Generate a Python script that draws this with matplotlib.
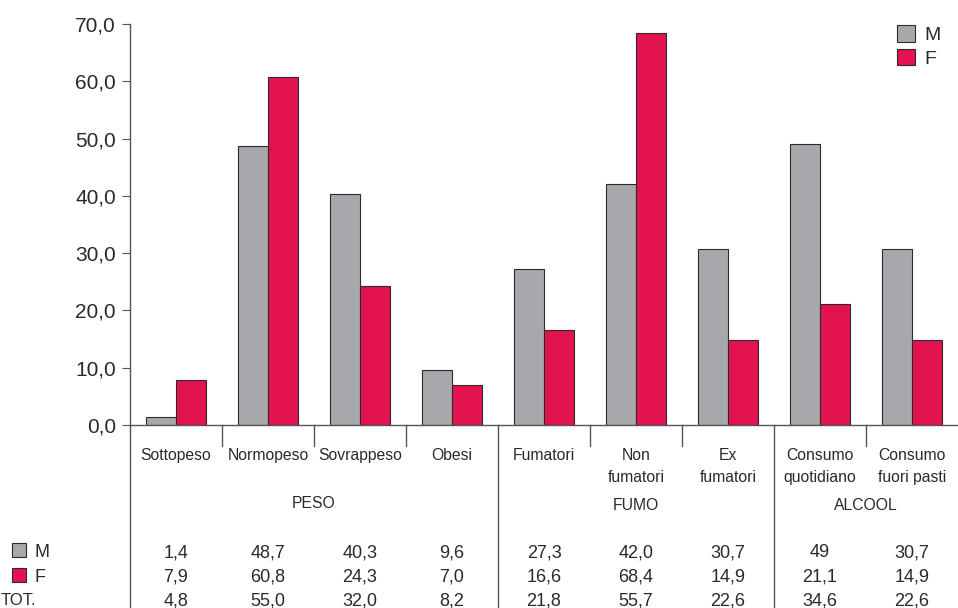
import matplotlib.pyplot as plt
import matplotlib.transforms as mtransforms
from matplotlib.ticker import FuncFormatter
from matplotlib.patches import Rectangle

categories = ["Sottopeso", "Normopeso", "Sovrappeso", "Obesi",
              "Fumatori", "Non\nfumatori", "Ex\nfumatori",
              "Consumo\nquotidiano", "Consumo\nfuori pasti"]
male = [1.4, 48.7, 40.3, 9.6, 27.3, 42.0, 30.7, 49.0, 30.7]
female = [7.9, 60.8, 24.3, 7.0, 16.6, 68.4, 14.9, 21.1, 14.9]
male_txt = ["1,4", "48,7", "40,3", "9,6", "27,3", "42,0", "30,7", "49", "30,7"]
female_txt = ["7,9", "60,8", "24,3", "7,0", "16,6", "68,4", "14,9", "21,1", "14,9"]
tot_txt = ["4,8", "55,0", "32,0", "8,2", "21,8", "55,7", "22,6", "34,6", "22,6"]
groups = ["PESO", "FUMO", "ALCOOL"]
group_bounds = [(-0.5, 3.5), (3.5, 6.5), (6.5, 8.5)]

GREY = "#a7a8ab"
RED = "#e2124f"
EDGE = "#2b2b2b"
TXT = "#2a2a2a"

plt.rcParams['font.family'] = ['Liberation Sans', 'DejaVu Sans']

W, H = 958, 608
fig = plt.figure(figsize=(W / 100, H / 100), dpi=100)
ax = fig.add_axes([130 / W, (H - 425) / H, (958 - 130) / W, (425 - 24) / H])

x = list(range(len(categories)))
bw = 30 / 92
ax.bar([i - bw / 2 for i in x], male, width=bw, color=GREY, edgecolor=EDGE, linewidth=0.8, label="M")
ax.bar([i + bw / 2 for i in x], female, width=bw, color=RED, edgecolor=EDGE, linewidth=0.8, label="F")

ax.set_xlim(-0.5, 8.5)
ax.set_ylim(0, 70)
ax.set_yticks(range(0, 71, 10))
ax.yaxis.set_major_formatter(FuncFormatter(lambda v, p: f"{v:.1f}".replace(".", ",")))
ax.tick_params(axis='y', length=6, width=0.8, color="#555555", labelsize=15, labelcolor=TXT, pad=4)
ax.set_xticks([])
for s in ["top", "right"]:
    ax.spines[s].set_visible(False)
ax.spines["left"].set_color("#555555")
ax.spines["bottom"].set_color("#555555")
ax.spines["left"].set_linewidth(1.0)
ax.spines["bottom"].set_linewidth(1.0)

leg = ax.legend(loc="upper right", bbox_to_anchor=(1.0, 1.04), frameon=False, fontsize=14,
                handlelength=0.9, handleheight=0.9, handletextpad=0.5, labelspacing=0.25)
for t in leg.get_texts():
    t.set_color(TXT)

# table area below the axis
tr = mtransforms.blended_transform_factory(ax.transData, fig.transFigure)
def fy(px):
    return (H - px) / H

for b in [0.5, 1.5, 2.5, 4.5, 5.5, 7.5]:
    fig.add_artist(plt.Line2D([b, b], [fy(425), fy(446)], transform=tr, color="#555555", lw=1.0))
for b in [-0.5, 3.5, 6.5]:
    fig.add_artist(plt.Line2D([b, b], [fy(425), fy(608)], transform=tr, color="#555555", lw=1.0))

for i, c in enumerate(categories):
    fig.text(i, fy(448), c, transform=tr, ha="center", va="top", fontsize=11.3,
             color=TXT, linespacing=1.6)

group_y = [fy(503), fy(505), fy(505)]
for g, (a, b), gy in zip(groups, group_bounds, group_y):
    fig.text((a + b) / 2, gy, g, transform=tr, ha="center", va="center", fontsize=11.3, color=TXT)

# rows of values, aligned on the baseline
rows = [(male_txt, 557), (female_txt, 582), (tot_txt, 605)]
for vals, py in rows:
    for i, v in enumerate(vals):
        fig.text(i, fy(py), v, transform=tr, ha="center", va="baseline", fontsize=13, color=TXT)

# row keys on the left
for col, py in [(GREY, 550), (RED, 575)]:
    fig.add_artist(Rectangle((12 / W, fy(py + 7)), 14 / W, 14 / H, transform=fig.transFigure,
                             facecolor=col, edgecolor=EDGE, lw=0.8))
fig.text(34 / W, fy(557), "M", ha="left", va="baseline", fontsize=13, color=TXT)
fig.text(34 / W, fy(582), "F", ha="left", va="baseline", fontsize=13, color=TXT)
fig.text(1 / W, fy(605), "TOT.", ha="left", va="baseline", fontsize=12, color=TXT)

fig.savefig("out.png", dpi=100)
